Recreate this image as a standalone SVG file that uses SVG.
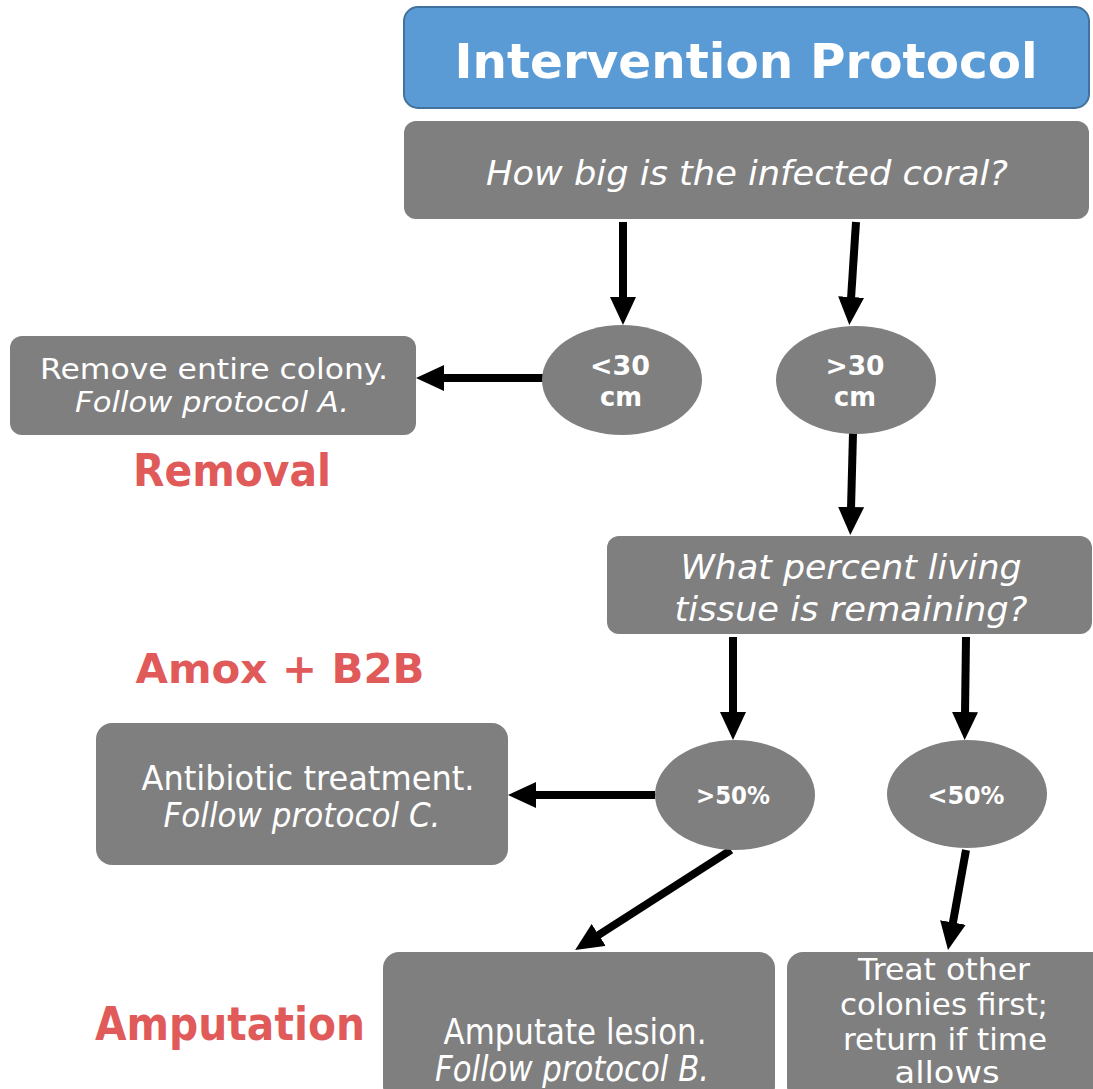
<svg xmlns="http://www.w3.org/2000/svg" width="1093" height="1089" viewBox="0 0 1093 1089">
<style>
.box{fill:#7F7F7F}
.t{font-family:"DejaVu Sans","Liberation Sans",sans-serif;fill:#FFFFFF;text-anchor:middle}
.i{font-style:italic}
.b{font-weight:bold}
.red{font-family:"DejaVu Sans","Liberation Sans",sans-serif;fill:#E05A5A;font-weight:bold;text-anchor:middle}
.c{stroke:#000;stroke-width:8;fill:none;marker-end:url(#ah)}
</style>
<defs>
<marker id="ah" markerUnits="userSpaceOnUse" markerWidth="30" markerHeight="28" refX="2" refY="13" orient="auto">
<path d="M0,0 L28,13 L0,26 z" fill="#000"/>
</marker>
</defs>
<rect width="1093" height="1089" fill="#FFFFFF"/>
<g id="connectors">
<line class="c" x1="623" y1="222" x2="623" y2="299"/>
<line class="c" x1="856" y1="222" x2="851" y2="299"/>
<line class="c" x1="543" y1="378" x2="442" y2="378"/>
<line class="c" x1="853" y1="433" x2="851" y2="509"/>
<line class="c" x1="733" y1="637" x2="733" y2="714"/>
<line class="c" x1="966" y1="637" x2="965" y2="714"/>
<line class="c" x1="655" y1="795" x2="534" y2="795"/>
<line class="c" x1="731" y1="850" x2="597" y2="936"/>
<line class="c" x1="966" y1="850" x2="952.6" y2="924.4"/>
</g>
<g id="title">
<rect x="404" y="7" width="685" height="101" rx="14" fill="#5B9BD5" stroke="#41719C" stroke-width="2"/>
<text class="t b" x="746" y="78" font-size="48" textLength="583" lengthAdjust="spacingAndGlyphs">Intervention Protocol</text>
</g>
<g id="q1">
<rect class="box" x="404" y="121" width="685" height="98" rx="12"/>
<text class="t i" x="747" y="185" font-size="34" textLength="522" lengthAdjust="spacingAndGlyphs">How big is the infected coral?</text>
</g>
<g id="lt30">
<ellipse class="box" cx="622" cy="380" rx="80" ry="55"/>
<text class="t b" x="620" y="375" font-size="27" textLength="60" lengthAdjust="spacingAndGlyphs">&lt;30</text>
<text class="t b" x="621" y="406" font-size="27" textLength="42" lengthAdjust="spacingAndGlyphs">cm</text>
</g>
<g id="gt30">
<ellipse class="box" cx="856" cy="380" rx="80" ry="54"/>
<text class="t b" x="855" y="375" font-size="27" textLength="59" lengthAdjust="spacingAndGlyphs">&gt;30</text>
<text class="t b" x="855" y="406" font-size="27" textLength="42" lengthAdjust="spacingAndGlyphs">cm</text>
</g>
<g id="remove">
<rect class="box" x="10" y="336" width="406" height="99" rx="12"/>
<text class="t" x="214" y="379" font-size="28" textLength="348" lengthAdjust="spacingAndGlyphs">Remove entire colony.</text>
<text class="t i" x="212" y="412" font-size="28" textLength="274" lengthAdjust="spacingAndGlyphs">Follow protocol A.</text>
</g>
<g id="removal-label">
<text class="red" x="232" y="486" font-size="44" textLength="198" lengthAdjust="spacingAndGlyphs">Removal</text>
</g>
<g id="q2">
<rect class="box" x="607" y="536" width="485" height="98" rx="12"/>
<text class="t i" x="851" y="579" font-size="34" textLength="341" lengthAdjust="spacingAndGlyphs">What percent living</text>
<text class="t i" x="851" y="621" font-size="34" textLength="353" lengthAdjust="spacingAndGlyphs">tissue is remaining?</text>
</g>
<g id="gt50">
<ellipse class="box" cx="735" cy="795" rx="80" ry="55"/>
<text class="t b" x="733" y="804" font-size="24" textLength="74" lengthAdjust="spacingAndGlyphs">&gt;50%</text>
</g>
<g id="lt50">
<ellipse class="box" cx="967" cy="794" rx="80" ry="54"/>
<text class="t b" x="966" y="804" font-size="24" textLength="77" lengthAdjust="spacingAndGlyphs">&lt;50%</text>
</g>
<g id="amox-label">
<text class="red" x="280" y="683" font-size="41" textLength="289" lengthAdjust="spacingAndGlyphs">Amox + B2B</text>
</g>
<g id="antibiotic">
<rect class="box" x="96" y="723" width="412" height="142" rx="16"/>
<text class="t" x="308" y="790" font-size="33" textLength="333" lengthAdjust="spacingAndGlyphs">Antibiotic treatment.</text>
<text class="t i" x="302" y="827" font-size="33" textLength="277" lengthAdjust="spacingAndGlyphs">Follow protocol C.</text>
</g>
<g id="amputation-label">
<text class="red" x="230" y="1040" font-size="46" textLength="270" lengthAdjust="spacingAndGlyphs">Amputation</text>
</g>
<g id="amputate">
<rect class="box" x="383" y="952" width="392" height="150" rx="16"/>
<text class="t" x="575" y="1044" font-size="35" textLength="263" lengthAdjust="spacingAndGlyphs">Amputate lesion.</text>
<text class="t i" x="572" y="1081" font-size="35" textLength="274" lengthAdjust="spacingAndGlyphs">Follow protocol B.</text>
</g>
<g id="treat">
<rect class="box" x="787" y="952" width="320" height="150" rx="16"/>
<text class="t" x="944" y="980" font-size="30" textLength="172" lengthAdjust="spacingAndGlyphs">Treat other</text>
<text class="t" x="944" y="1015" font-size="30" textLength="208" lengthAdjust="spacingAndGlyphs">colonies first;</text>
<text class="t" x="945" y="1050" font-size="30" textLength="204" lengthAdjust="spacingAndGlyphs">return if time</text>
<text class="t" x="947" y="1083" font-size="30" textLength="105" lengthAdjust="spacingAndGlyphs">allows</text>
</g>
</svg>
